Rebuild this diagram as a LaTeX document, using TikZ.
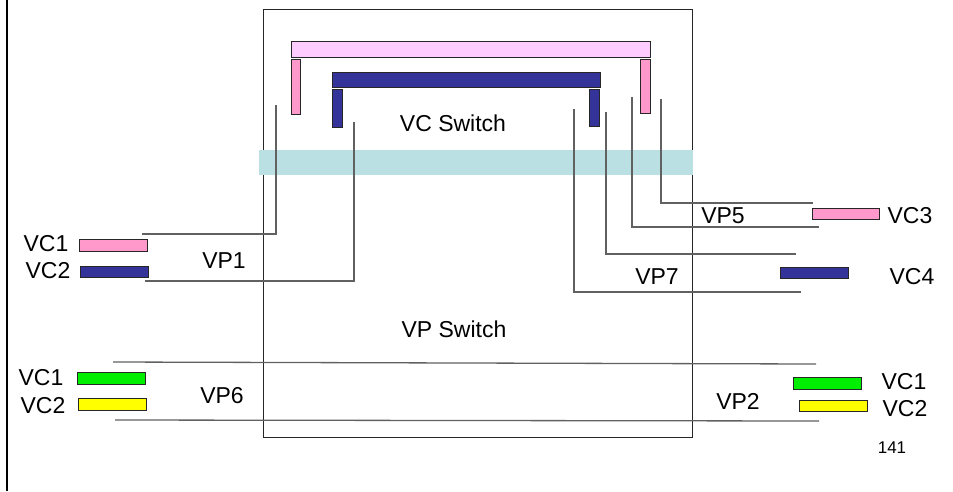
\documentclass[tikz,border=0pt]{standalone}
\usepackage{fontspec}
\setmainfont{Liberation Sans}
\definecolor{lpink}{HTML}{FFCCFF}
\definecolor{mpink}{HTML}{FF99CC}
\definecolor{navy}{HTML}{333399}
\definecolor{band}{HTML}{BBE0E3}
\definecolor{vgreen}{HTML}{00EE00}
\definecolor{vyellow}{HTML}{FFFF00}
\begin{document}
\begin{tikzpicture}[x=1pt,y=-1pt,
  bar/.style={draw=black!85,line width=0.9pt},
  wire/.style={draw=black!62,line width=1.3pt},
  lbl/.style={font=\fontsize{23}{27}\selectfont,inner sep=0pt,anchor=center},
]
\useasboundingbox (0,0) rectangle (953,491);
% left margin line
\draw[line width=2.4pt] (7,0) -- (7,491);
% main box
\node[draw=black!85,line width=1pt,minimum width=429pt,minimum height=428pt,inner sep=0pt,anchor=north west] (box) at (263,9) {};
% band
\fill[band] (259,150) rectangle (693,175);
% VC switch bars
\filldraw[bar,fill=lpink] (291,41) rectangle (650,57);
\filldraw[bar,fill=mpink] (291,59) rectangle (300,114);
\filldraw[bar,fill=mpink] (640,59) rectangle (650,113);
\filldraw[bar,fill=navy] (332,72) rectangle (600,87);
\filldraw[bar,fill=navy] (332,89) rectangle (342,127);
\filldraw[bar,fill=navy] (589,89) rectangle (599,126);
% VC rectangles
\filldraw[bar,fill=mpink] (79,239) rectangle (147,251);
\filldraw[bar,fill=navy] (80,266) rectangle (148,277);
\filldraw[bar,fill=mpink] (812,208) rectangle (879,219);
\filldraw[bar,fill=navy] (780,267) rectangle (848,278);
\filldraw[bar,fill=vgreen] (77,372) rectangle (145,384);
\filldraw[bar,fill=vyellow] (78,398) rectangle (146,410);
\filldraw[bar,fill=vgreen] (793,377) rectangle (861,389);
\filldraw[bar,fill=vyellow] (799,400) rectangle (867,411);
% wires
\coordinate (a1) at (142,234); \coordinate (a2) at (276,234); \coordinate (a3) at (276,105);
\draw[wire] (a1) -- (a2) -- (a3);
\coordinate (b1) at (145,281); \coordinate (b2) at (354,281); \coordinate (b3) at (354,122);
\draw[wire] (b1) -- (b2) -- (b3);
\coordinate (c1) at (661,99); \coordinate (c2) at (661,203); \coordinate (c3) at (813,203);
\draw[wire] (c1) -- (c2) -- (c3);
\coordinate (d1) at (632,97); \coordinate (d2) at (632,227); \coordinate (d3) at (819,227);
\draw[wire] (d1) -- (d2) -- (d3);
\coordinate (e1) at (606,112); \coordinate (e2) at (606,254); \coordinate (e3) at (796,254);
\draw[wire] (e1) -- (e2) -- (e3);
\coordinate (f1) at (574,109); \coordinate (f2) at (574,292); \coordinate (f3) at (801,292);
\draw[wire] (f1) -- (f2) -- (f3);
\coordinate (g1) at (113,362); \coordinate (g2) at (816,364);
\draw[wire] (g1) -- (g2);
\coordinate (h1) at (115,420); \coordinate (h2) at (819,421);
\draw[wire] (h1) -- (h2);
% labels
\node[lbl] (t1) at (46,244) {VC1};
\node[lbl] (t2) at (48,271) {VC2};
\node[lbl] (t3) at (224,261) {VP1};
\node[lbl] (t4) at (453,123) {VC Switch};
\node[lbl] (t5) at (454,329) {VP Switch};
\node[lbl] (t6) at (723,216) {VP5};
\node[lbl] (t7) at (910,216) {VC3};
\node[lbl] (t8) at (657,277) {VP7};
\node[lbl] (t9) at (912,277) {VC4};
\node[lbl] (t10) at (41,378) {VC1};
\node[lbl] (t11) at (43,406) {VC2};
\node[lbl] (t12) at (222,396) {VP6};
\node[lbl] (t13) at (738,401) {VP2};
\node[lbl] (t14) at (904,382) {VC1};
\node[lbl] (t15) at (905,409) {VC2};
\node[lbl,font=\fontsize{17}{20}\selectfont] (t16) at (892,448) {141};
\end{tikzpicture}
\end{document}
